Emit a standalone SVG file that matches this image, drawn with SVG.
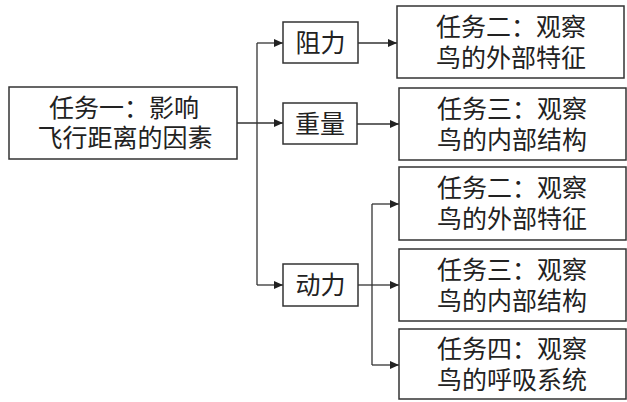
<svg xmlns="http://www.w3.org/2000/svg" width="627" height="402" viewBox="0 0 627 402">
<style>
.box{fill:#fff;stroke:#333;stroke-width:1.5}
.t{font-family:"Noto Sans CJK SC","Noto Sans",sans-serif;font-size:25px;fill:#222;text-anchor:middle}
.c{fill:none;stroke:#333;stroke-width:1.3}
</style>
<defs>
<marker id="ar" markerUnits="userSpaceOnUse" markerWidth="10" markerHeight="9" refX="9" refY="4" orient="auto">
<path d="M0,0 L9,4 L0,8 z" fill="#222"/>
</marker>
</defs>
<rect width="627" height="402" fill="#fff"/>
<g id="connectors">
<path class="c" d="M237,123 H283" marker-end="url(#ar)"/>
<path class="c" d="M257,43 V285"/>
<path class="c" d="M257,43 H283" marker-end="url(#ar)"/>
<path class="c" d="M257,285 H283" marker-end="url(#ar)"/>
<path class="c" d="M358,43 H397" marker-end="url(#ar)"/>
<path class="c" d="M357,124 H399" marker-end="url(#ar)"/>
<path class="c" d="M358,285 H372"/>
<path class="c" d="M372,204 V365"/>
<path class="c" d="M372,204 H399" marker-end="url(#ar)"/>
<path class="c" d="M372,285 H399" marker-end="url(#ar)"/>
<path class="c" d="M372,365 H399" marker-end="url(#ar)"/>
</g>
<g id="task1">
<rect class="box" x="9" y="87" width="228" height="72"/>
<text class="t" x="124" y="116.5">任务一：影响</text>
<text class="t" x="125" y="147">飞行距离的因素</text>
</g>
<g id="zuli">
<rect class="box" x="283" y="22" width="75" height="41"/>
<text class="t" x="320.5" y="52">阻力</text>
</g>
<g id="zhongliang">
<rect class="box" x="283" y="103" width="74" height="41"/>
<text class="t" x="320" y="133">重量</text>
</g>
<g id="dongli">
<rect class="box" x="283" y="264" width="75" height="42"/>
<text class="t" x="320.5" y="294">动力</text>
</g>
<g id="taskA">
<rect class="box" x="397" y="6" width="227" height="72"/>
<text class="t" x="511" y="35.8">任务二：观察</text>
<text class="t" x="511" y="66.8">鸟的外部特征</text>
</g>
<g id="taskB">
<rect class="box" x="399" y="88" width="227" height="72"/>
<text class="t" x="512" y="117.8">任务三：观察</text>
<text class="t" x="512" y="148.8">鸟的内部结构</text>
</g>
<g id="taskC">
<rect class="box" x="399" y="167" width="227" height="73"/>
<text class="t" x="512" y="197.3">任务二：观察</text>
<text class="t" x="512" y="228.3">鸟的外部特征</text>
</g>
<g id="taskD">
<rect class="box" x="399" y="249" width="227" height="72"/>
<text class="t" x="512" y="278.8">任务三：观察</text>
<text class="t" x="512" y="309.8">鸟的内部结构</text>
</g>
<g id="taskE">
<rect class="box" x="399" y="329" width="227" height="70"/>
<text class="t" x="512" y="357.8">任务四：观察</text>
<text class="t" x="512" y="388.8">鸟的呼吸系统</text>
</g>
</svg>
